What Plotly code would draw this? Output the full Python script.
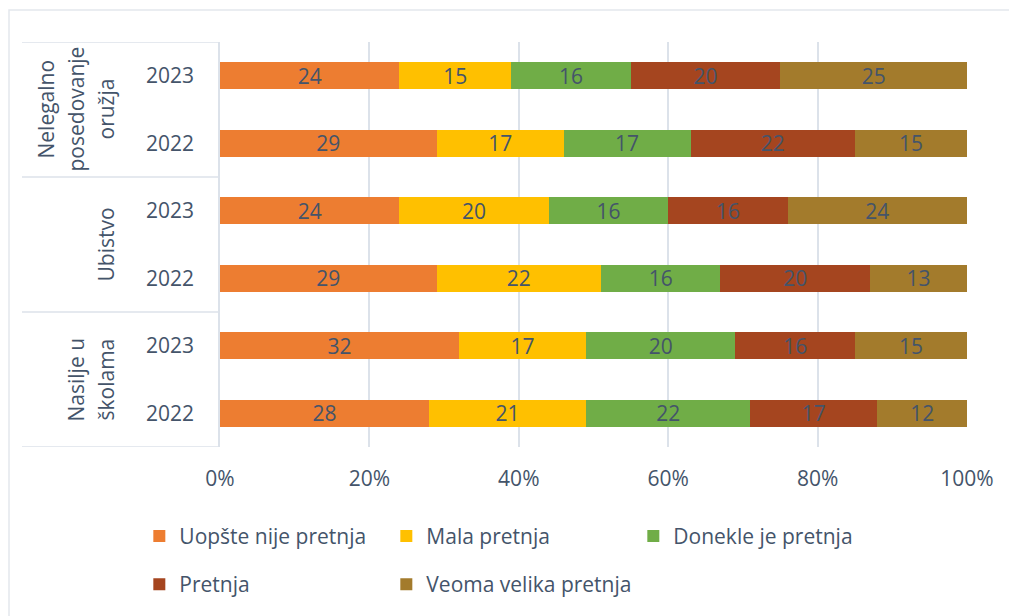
import plotly.graph_objects as go

# ---- data (bottom to top order in plot) ----
groups = [["Nasilje u", "školama"], ["Ubistvo"], ["Nelegalno", "posedovanje", "oružja"]]
row_labels = ["2022", "2023", "2022", "2023", "2022", "2023"]
row_group = [0, 0, 1, 1, 2, 2]

series_names = ["Uopšte nije pretnja", "Mala pretnja", "Donekle je pretnja",
                "Pretnja", "Veoma velika pretnja"]
uopste = [28, 32, 29, 24, 29, 24]
mala = [21, 17, 22, 20, 17, 15]
donekle = [22, 20, 16, 16, 17, 16]
pretnja = [17, 16, 20, 16, 22, 20]
veoma = [12, 15, 13, 24, 15, 25]
series_values = [uopste, mala, donekle, pretnja, veoma]
colors = ["#ED7D31", "#FFC000", "#70AD47", "#A5451F", "#A37B2C"]
x_ticks = [0, 0.2, 0.4, 0.6, 0.8, 1.0]

FONT = "Open Sans"
TXT = "#44546A"
GRID = "#DCE2EA"

W, H = 1009, 608
ML, MR, MT, MB = 212, 50, 34, 169
PW = W - ML - MR
PH = H - MT - MB

ypos = list(range(len(row_labels)))

fig = go.Figure()
for i, (name, vals, col) in enumerate(zip(series_names, series_values, colors)):
    fig.add_trace(go.Bar(
        y=ypos, x=[v / 100 for v in vals], orientation="h", name=name,
        marker=dict(color=col, line=dict(width=0)),
        text=[str(v) for v in vals], textposition="inside", textangle=0,
        insidetextanchor="middle", constraintext="none",
        textfont=dict(family=FONT, size=21, color=TXT),
        width=0.4, hoverinfo="skip",
        legend="legend" if i < 3 else "legend2",
    ))

fig.update_layout(
    barmode="stack",
    width=W, height=H,
    margin=dict(l=ML, r=MR, t=MT, b=MB, autoexpand=False),
    paper_bgcolor="white", plot_bgcolor="white",
    font=dict(family=FONT, size=21, color=TXT),
    legend=dict(orientation="h", x=-0.108, xanchor="left", y=-0.17, yanchor="top",
                entrywidth=202, entrywidthmode="pixels",
                font=dict(family=FONT, size=21, color=TXT), traceorder="normal"),
    legend2=dict(orientation="h", x=-0.108, xanchor="left", y=-0.289, yanchor="top",
                 entrywidth=202, entrywidthmode="pixels",
                 font=dict(family=FONT, size=21, color=TXT), traceorder="normal"),
)

fig.update_xaxes(range=[0, 1], tickvals=x_ticks, tickformat=".0%",
                 showgrid=True, gridcolor=GRID, gridwidth=1.5, zeroline=False,
                 showline=False, ticks="", ticklabelstandoff=17,
                 tickfont=dict(family=FONT, size=21, color=TXT), fixedrange=True)
fig.update_yaxes(range=[-0.5, 5.5], tickvals=ypos, ticktext=row_labels,
                 showgrid=False, zeroline=False, showline=True, linecolor=GRID,
                 linewidth=1.5, ticks="", ticklabelstandoff=20,
                 tickfont=dict(family=FONT, size=21, color=TXT), fixedrange=True)

# group dividers and labels
left = (14 - ML) / PW
for b in [-0.5, 1.5, 3.5, 5.5]:
    fig.add_shape(type="line", xref="paper", yref="y", x0=left, x1=0, y0=b, y1=b,
                  line=dict(color=GRID, width=1.5))
for gi, lines in enumerate(groups):
    rows = [r for r, gg in enumerate(row_group) if gg == gi]
    n = len(lines)
    for li, line in enumerate(lines):
        fig.add_annotation(xref="paper", yref="y", x=(97 - ML) / PW, xanchor="center",
                           xshift=-30 * (n - 1 - li),
                           y=sum(rows) / len(rows), yanchor="middle",
                           text=line, textangle=-90, showarrow=False,
                           font=dict(family=FONT, size=21, color=TXT))

# outer chart border
fig.add_shape(type="rect", xref="paper", yref="paper",
              x0=(1 - ML) / PW, x1=(W + 20 - ML) / PW,
              y0=(MT + PH - (H + 20)) / PH, y1=(MT + PH - 2) / PH,
              line=dict(color="#E3E7ED", width=1.5), fillcolor="rgba(0,0,0,0)", layer="below")

fig.write_html("out.html")
